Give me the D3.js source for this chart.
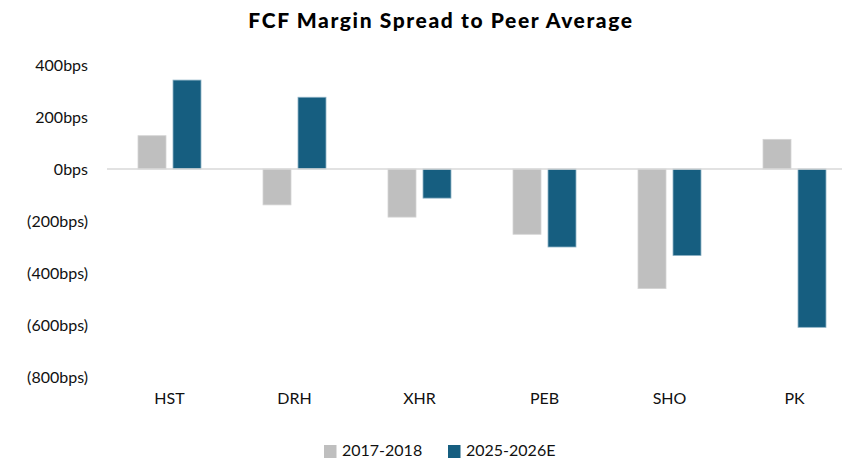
<!DOCTYPE html>
<html>
<head>
<meta charset="utf-8">
<script src="https://cdn.jsdelivr.net/npm/d3@7"></script>
<style>
  body { margin: 0; background: #fff; }
  svg { display: block; font-family: Lato, "Open Sans", sans-serif; }
</style>
</head>
<body>
<div id="root"></div>
<script>
const categories = ['HST', 'DRH', 'XHR', 'PEB', 'SHO', 'PK'];
const seriesNames = ['2017-2018', '2025-2026E'];
const values2017 = [128, -138, -185, -251, -460, 114];
const values2025 = [342, 276, -112, -300, -333, -609];
const yTicks = [400, 200, 0, -200, -400, -600, -800];

const colors = ['#bfbfbf', '#165e80'];
const strokes = ['#d4d4d4', '#8fb3c6'];

const width = 842;
const height = 460;

const svg = d3.select('#root').append('svg')
  .attr('width', width)
  .attr('height', height);

svg.append('text')
  .attr('x', 441)
  .attr('y', 28)
  .attr('text-anchor', 'middle')
  .attr('font-size', 21)
  .attr('font-weight', 900)
  .attr('letter-spacing', 1.6)
  .attr('fill', '#000')
  .text('FCF Margin Spread to Peer Average');

const xScale = d3.scaleBand()
  .domain(categories)
  .range([107, 857])
  .paddingInner(0)
  .paddingOuter(0);

const yScale = d3.scaleLinear()
  .domain([-800, 400])
  .range([377, 65]);

const fmt = (v) => v < 0 ? `(${Math.abs(v)}bps)` : `${v}bps`;

// y labels only, no axis line
const yAxis = svg.append('g')
  .attr('transform', 'translate(88, 0)')
  .call(d3.axisLeft(yScale).tickValues(yTicks).tickFormat(fmt).tickSize(0).tickPadding(0));
yAxis.select('.domain').remove();
yAxis.selectAll('text')
  .attr('font-size', 16)
  .attr('fill', '#111')
  .attr('font-family', 'Lato, sans-serif');

// category labels
const xAxis = svg.append('g')
  .attr('transform', 'translate(0, 393)')
  .call(d3.axisBottom(xScale).tickSize(0).tickPadding(0));
xAxis.select('.domain').remove();
xAxis.selectAll('text')
  .attr('font-size', 16)
  .attr('fill', '#111')
  .attr('font-family', 'Lato, sans-serif');

const barW = 28;
const gap = 7;

const rows = categories.map((c, i) => ({ c, vals: [values2017[i], values2025[i]] }));

rows.forEach(d => {
  d.vals.forEach((v, s) => {
    const cx = xScale(d.c) + xScale.bandwidth() / 2;
    const x = s === 0 ? cx - gap / 2 - barW : cx + gap / 2;
    svg.append('rect')
      .attr('x', x)
      .attr('y', yScale(Math.max(0, v)))
      .attr('width', barW)
      .attr('height', Math.abs(yScale(v) - yScale(0)))
      .attr('fill', colors[s])
      .attr('stroke', strokes[s])
      .attr('stroke-width', 0.8);
  });
});

// zero line
svg.append('line')
  .attr('x1', 107)
  .attr('x2', 857)
  .attr('y1', yScale(0))
  .attr('y2', yScale(0))
  .attr('stroke', '#d9d9d9')
  .attr('stroke-width', 1.5);

// legend
const legendX = [324, 448];
const legend = svg.append('g');
seriesNames.forEach((name, i) => {
  legend.append('rect')
    .attr('x', legendX[i])
    .attr('y', 445)
    .attr('width', 12.5)
    .attr('height', 13)
    .attr('fill', colors[i]);
  legend.append('text')
    .attr('x', legendX[i] + 18)
    .attr('y', 456)
    .attr('font-size', 16)
    .attr('fill', '#111')
    .text(name);
});
</script>
</body>
</html>
